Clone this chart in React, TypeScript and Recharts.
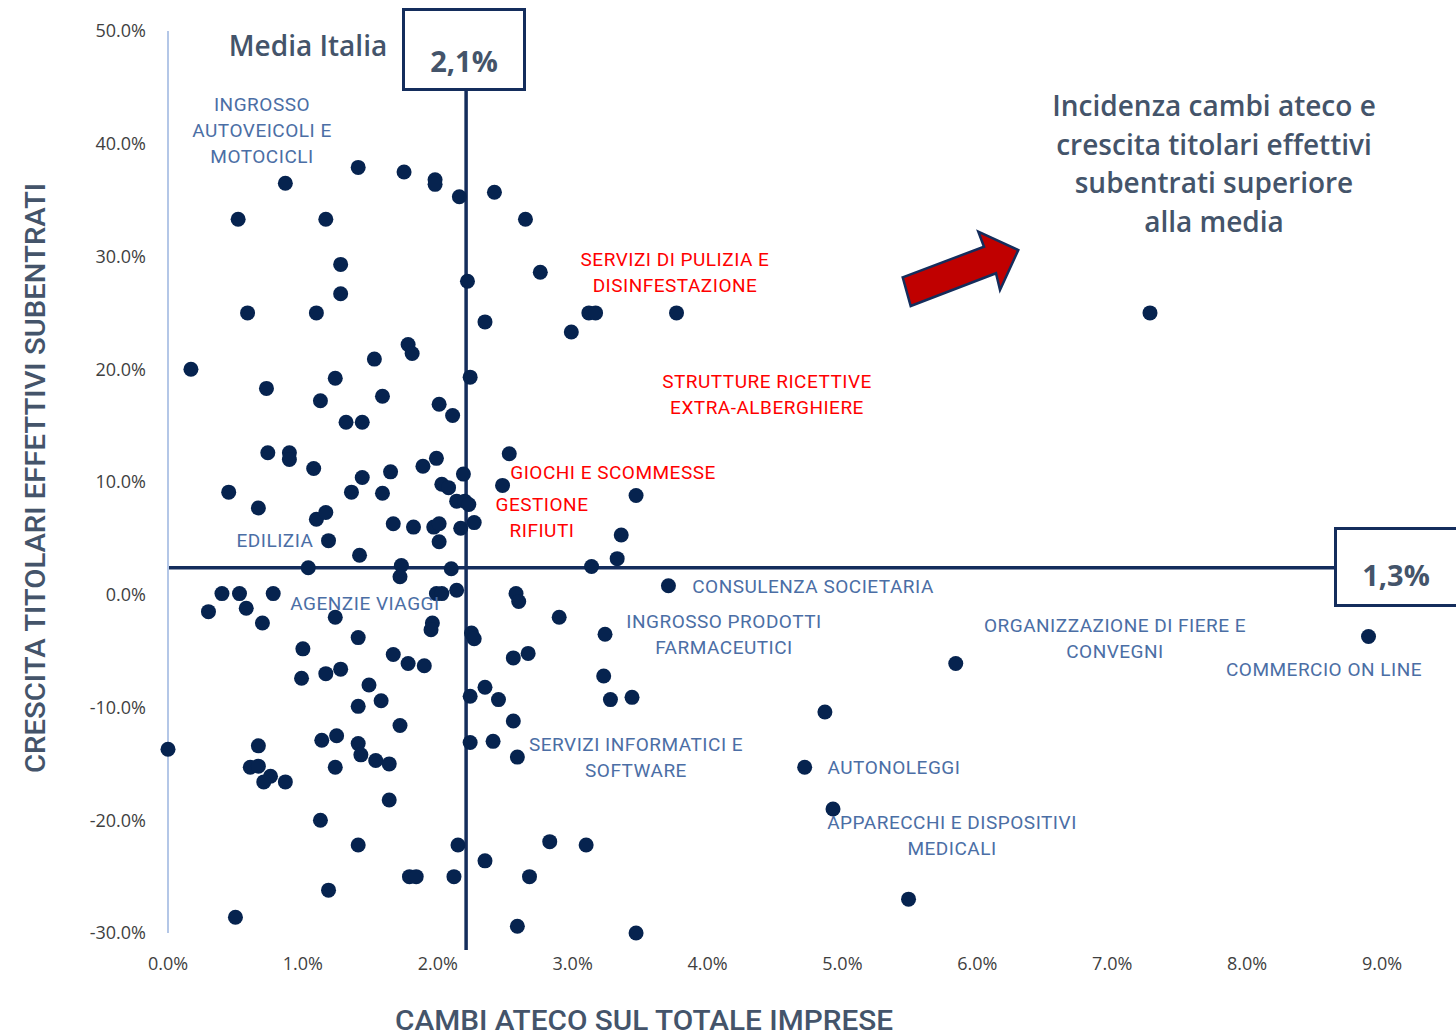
import React from 'react';
import {
  ScatterChart,
  Scatter,
  XAxis,
  YAxis,
  ReferenceLine,
} from 'recharts';

// cambi ateco sul totale imprese (%), crescita titolari effettivi subentrati (%)
const SETTORI_ALTI: [number, number][] = [
  [1.41, 37.9], [1.75, 37.5], [1.98, 36.8], [1.98, 36.4], [0.87, 36.5],
  [2.16, 35.3], [2.42, 35.7], [0.52, 33.3], [1.17, 33.3], [2.65, 33.3],
  [1.28, 29.3], [2.22, 27.8], [2.76, 28.6], [1.28, 26.7], [0.59, 25.0],
  [1.10, 25.0], [2.35, 24.2], [2.99, 23.3], [3.12, 25.0], [3.17, 25.0],
  [3.77, 25.0], [7.28, 25.0], [1.78, 22.2], [1.81, 21.4], [1.53, 20.9],
  [0.17, 20.0], [1.24, 19.2], [2.24, 19.3], [0.73, 18.3], [1.13, 17.2],
  [1.59, 17.6], [2.01, 16.9], [2.11, 15.9], [1.32, 15.3], [1.44, 15.3],
];

const SETTORI_MEDI: [number, number][] = [
  [0.74, 12.6], [0.90, 12.6], [0.90, 12.0], [1.08, 11.2], [1.44, 10.4],
  [1.65, 10.9], [1.89, 11.4], [1.99, 12.1], [2.19, 10.7], [2.53, 12.5],
  [0.45, 9.1], [0.67, 7.7], [1.36, 9.1], [1.59, 9.0], [2.03, 9.8],
  [2.08, 9.5], [2.48, 9.7], [1.10, 6.7], [1.17, 7.3], [2.14, 8.3],
  [2.20, 8.3], [2.23, 8.0], [1.67, 6.3], [1.82, 6.0], [1.97, 6.0],
  [2.01, 6.3], [2.17, 5.9], [2.27, 6.4], [1.19, 4.8], [2.01, 4.7],
  [1.42, 3.5], [1.04, 2.4], [1.73, 2.6], [1.72, 1.6], [2.10, 2.3],
  [3.47, 8.8], [3.36, 5.3], [3.33, 3.2], [3.14, 2.5], [3.71, 0.8],
  [0.40, 0.1], [0.53, 0.1], [0.78, 0.1], [1.99, 0.1], [2.03, 0.1],
  [2.14, 0.4], [2.58, 0.1],
];

const SETTORI_BASSI: [number, number][] = [
  [2.60, -0.6], [0.30, -1.5], [0.58, -1.2], [0.70, -2.5], [1.24, -2.0],
  [2.90, -2.0], [3.24, -3.5], [1.96, -2.5], [1.95, -3.1], [2.25, -3.4],
  [2.27, -3.9], [1.41, -3.8], [1.00, -4.8], [1.67, -5.3], [1.78, -6.1],
  [1.90, -6.3], [2.56, -5.6], [2.67, -5.2], [3.23, -7.2], [5.84, -6.1],
  [8.90, -3.7], [0.99, -7.4], [1.17, -7.0], [1.28, -6.6], [1.49, -8.0],
  [2.35, -8.2], [2.24, -9.0], [2.45, -9.3], [3.28, -9.3], [3.44, -9.1],
  [1.41, -9.9], [1.58, -9.4], [2.56, -11.2], [1.72, -11.6], [4.87, -10.4],
];

const SETTORI_NEGATIVI: [number, number][] = [
  [0.00, -13.7], [0.67, -13.4], [1.14, -12.9], [1.25, -12.5], [1.41, -13.2],
  [1.43, -14.2], [2.24, -13.1], [2.41, -13.0], [2.59, -14.4], [0.61, -15.3],
  [0.67, -15.2], [0.76, -16.1], [0.71, -16.6], [0.87, -16.6], [1.24, -15.3],
  [1.54, -14.7], [1.64, -15.0], [4.72, -15.3], [1.64, -18.2], [4.93, -19.0],
  [1.13, -20.0], [1.41, -22.2], [2.15, -22.2], [2.83, -21.9], [3.10, -22.2],
  [2.35, -23.6], [1.79, -25.0], [1.84, -25.0], [2.12, -25.0], [2.68, -25.0],
  [1.19, -26.2], [5.49, -27.0], [0.50, -28.6], [2.59, -29.4], [3.47, -30.0],
];

const X_TICKS = [0, 1, 2, 3, 4, 5, 6, 7, 8, 9];
const Y_TICKS = [-30, -20, -10, 0, 10, 20, 30, 40, 50];

// linee della media (posizione come disegnate nel grafico)
const MEDIA_CAMBI = 2.21;
const MEDIA_CRESCITA = 2.4;
const MEDIA_CAMBI_LABEL = '2,1%';
const MEDIA_CRESCITA_LABEL = '1,3%';

const NAVY = '#142d5c';
const DOT = '#06234f';
const SLATE = '#44546a';
const BLUE = '#4b6ea5';
const RED = '#ff0000';

const punti = [...SETTORI_ALTI, ...SETTORI_MEDI, ...SETTORI_BASSI, ...SETTORI_NEGATIVI].map(
  ([x, y]) => ({ x, y })
);

const pct = (v: number) => `${v.toFixed(1)}%`;

// etichette dei settori (testo, centro x, y prima riga, colore)
const ETICHETTE: { righe: string[]; x: number; y: number; c: string }[] = [
  { righe: ['INGROSSO', 'AUTOVEICOLI E', 'MOTOCICLI'], x: 262, y: 104, c: BLUE },
  { righe: ['SERVIZI DI PULIZIA E', 'DISINFESTAZIONE'], x: 675, y: 259, c: RED },
  { righe: ['STRUTTURE RICETTIVE', 'EXTRA-ALBERGHIERE'], x: 767, y: 381, c: RED },
  { righe: ['GIOCHI E SCOMMESSE'], x: 613, y: 472, c: RED },
  { righe: ['GESTIONE', 'RIFIUTI'], x: 542, y: 504, c: RED },
  { righe: ['EDILIZIA'], x: 275, y: 540, c: BLUE },
  { righe: ['AGENZIE VIAGGI'], x: 365, y: 603, c: BLUE },
  { righe: ['CONSULENZA SOCIETARIA'], x: 813, y: 586, c: BLUE },
  { righe: ['INGROSSO PRODOTTI', 'FARMACEUTICI'], x: 724, y: 621, c: BLUE },
  { righe: ['ORGANIZZAZIONE DI FIERE E', 'CONVEGNI'], x: 1115, y: 625, c: BLUE },
  { righe: ['COMMERCIO ON LINE'], x: 1324, y: 669, c: BLUE },
  { righe: ['SERVIZI INFORMATICI E', 'SOFTWARE'], x: 636, y: 744, c: BLUE },
  { righe: ['AUTONOLEGGI'], x: 894, y: 767, c: BLUE },
  { righe: ['APPARECCHI E DISPOSITIVI', 'MEDICALI'], x: 952, y: 822, c: BLUE },
];

const TITOLO = [
  'Incidenza cambi ateco e',
  'crescita titolari effettivi',
  'subentrati superiore',
  'alla media',
];

const tickStyle = { fontSize: 18, fill: '#3f3f3f', fontFamily: '"Open Sans", sans-serif' };

export default function App() {
  return (
    <div style={{ position: 'absolute', left: 0, top: 0, width: 1456, height: 1036, background: '#fff' }}>
      <ScatterChart width={1456} height={1036} margin={{ top: 31, right: 74, bottom: 0, left: 0 }}>
        <XAxis
          type="number"
          dataKey="x"
          domain={[0, 9]}
          ticks={X_TICKS}
          tickFormatter={pct}
          axisLine={false}
          tickLine={false}
          tickMargin={18}
          height={103}
          tick={tickStyle}
          interval={0}
        />
        <YAxis
          type="number"
          dataKey="y"
          domain={[-30, 50]}
          ticks={Y_TICKS}
          tickFormatter={pct}
          axisLine={{ stroke: '#b4c7e7', strokeWidth: 2 }}
          tickLine={false}
          tickMargin={16}
          width={168}
          tick={tickStyle}
          interval={0}
        />
        <ReferenceLine
          segment={[{ x: MEDIA_CAMBI, y: -31.5 }, { x: MEDIA_CAMBI, y: 50 }]}
          ifOverflow="visible"
          stroke={NAVY}
          strokeWidth={3.5}
        />
        <ReferenceLine y={MEDIA_CRESCITA} stroke={NAVY} strokeWidth={3.5} />
        <Scatter
          data={punti}
          isAnimationActive={false}
          shape={(p: any) => <circle cx={p.cx} cy={p.cy} r={7.5} fill={DOT} />}
        />
      </ScatterChart>

      <svg
        width={1456}
        height={1036}
        style={{ position: 'absolute', left: 0, top: 0, pointerEvents: 'none' }}
      >
        {/* box medie */}
        <rect x={403.5} y={9.5} width={121} height={80} fill="#fff" stroke={NAVY} strokeWidth={3} />
        <text x={464} y={60} textAnchor="middle" dominantBaseline="central" fontSize={29} fontWeight={700}
          fill={SLATE} fontFamily='"Open Sans", sans-serif'>{MEDIA_CAMBI_LABEL}</text>
        <rect x={1335.5} y={528.5} width={125} height={77} fill="#fff" stroke={NAVY} strokeWidth={3} />
        <text x={1396} y={574} textAnchor="middle" dominantBaseline="central" fontSize={29} fontWeight={700}
          fill={SLATE} fontFamily='"Open Sans", sans-serif'>{MEDIA_CRESCITA_LABEL}</text>

        <text x={308} y={45} textAnchor="middle" dominantBaseline="central" fontSize={28} fontWeight={600}
          fill={SLATE} fontFamily='"Open Sans", sans-serif'>Media Italia</text>

        {TITOLO.map((r, i) => (
          <text key={r} x={1214} y={105 + i * 38.5} textAnchor="middle" dominantBaseline="central"
            fontSize={28} fontWeight={600} fill={SLATE} fontFamily='"Open Sans", sans-serif'>{r}</text>
        ))}

        {/* freccia */}
        <polygon
          points="902.7,277.3 984,246.7 978.3,231.7 1018.3,250 1000,290 996,273.3 910.7,306"
          fill="#c00000"
          stroke={NAVY}
          strokeWidth={2.5}
          strokeLinejoin="miter"
        />

        {ETICHETTE.map((e) =>
          e.righe.map((r, i) => (
            <text key={e.x + r} x={e.x} y={e.y + i * 26} textAnchor="middle" dominantBaseline="central"
              fontSize={19} letterSpacing={0.5} fill={e.c} fontFamily="Roboto, sans-serif">{r}</text>
          ))
        )}

        {/* titoli assi */}
        <text x={35} y={478} transform="rotate(-90 35 478)" textAnchor="middle" dominantBaseline="central"
          fontSize={28} fontWeight={500} fill={SLATE} fontFamily="Roboto, sans-serif"
          textLength={590} lengthAdjust="spacingAndGlyphs">CRESCITA TITOLARI EFFETTIVI SUBENTRATI</text>
        <text x={644} y={1021} textAnchor="middle" dominantBaseline="central"
          fontSize={27} fontWeight={500} fill={SLATE} fontFamily="Roboto, sans-serif"
          textLength={498} lengthAdjust="spacingAndGlyphs">CAMBI ATECO SUL TOTALE IMPRESE</text>
      </svg>
    </div>
  );
}
